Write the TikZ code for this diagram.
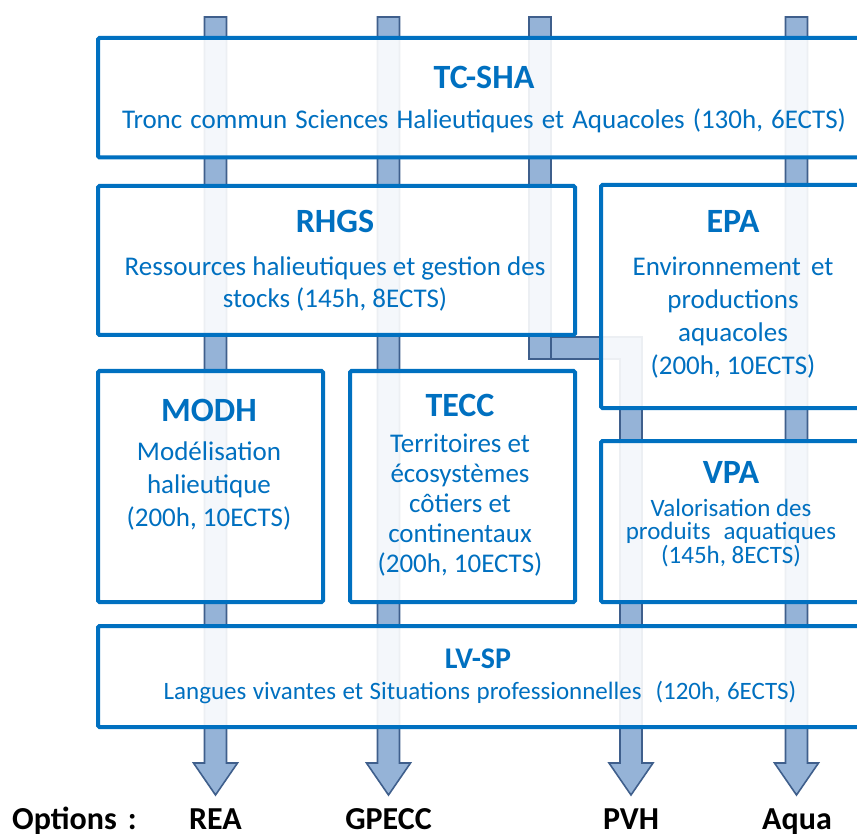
\documentclass[tikz,border=0pt]{standalone}
\usepackage{fontspec}
\setmainfont{Carlito}
\definecolor{boxblue}{HTML}{0070C0}
\definecolor{arrfill}{HTML}{95B3D7}
\definecolor{arrline}{HTML}{3F5F8C}
\newcommand\mlines[1]{\vtop{\lineskiplimit=-\maxdimen\halign{\hfil##\hfil\cr#1\crcr}}}
\begin{document}
\begin{tikzpicture}[x=1pt,y=-1pt,
  box/.style={draw=boxblue, line width=4pt, fill=white, fill opacity=0.9, rounded corners=1.5pt, inner sep=0pt, anchor=north west},
  arrowshape/.style={fill=arrfill, draw=arrline, line width=1.6pt, line join=miter},
  ttl/.style={text=boxblue, font=\fontsize{34}{40}\selectfont\bfseries, anchor=base, inner sep=0pt},
  body/.style={text=boxblue, font=\fontsize{27}{32}\selectfont, anchor=base, inner sep=0pt},
  opt/.style={font=\fontsize{32}{36}\selectfont\bfseries, anchor=base, inner sep=0pt},
  optarrow/.pic={\draw[arrowshape] (-11,0) -- (11,0) -- (11,746) -- (22,746) -- (0,778) -- (-22,746) -- (-11,746) -- cycle;}
]
\useasboundingbox (0,0) rectangle (857,834);
\clip (0,0) rectangle (857,834);
\fill[white] (0,0) rectangle (857,834);

% arrows (behind the boxes)
\pic at (215.5,17) {optarrow};
\pic at (388.5,17) {optarrow};
\pic at (796.5,17) {optarrow};
\draw[arrowshape] (529,17) -- (551,17) -- (551,337) -- (642,337) -- (642,763) -- (653,763) -- (631,795) -- (609,763) -- (620,763) -- (620,359) -- (529,359) -- cycle;
\draw[arrline, line width=1.6pt] (551,337) -- (551,359);

% boxes
\node[box, minimum width=776, minimum height=119.5] (tc) at (96,36) {};
\node[box, minimum width=477, minimum height=149] (rhgs) at (96,184) {};
\node[box, minimum width=271, minimum height=223] (epa) at (599,183) {};
\node[box, minimum width=225, minimum height=231] (modh) at (96,369) {};
\node[box, minimum width=225, minimum height=231] (tecc) at (348,369) {};
\node[box, minimum width=271, minimum height=161] (vpa) at (599,439) {};
\node[box, minimum width=766, minimum height=101] (lvsp) at (96,624) {};

% texts
\node[ttl] (tct) at (484,89) {TC-SHA};
\node[body] (tcb) at (484,129) {\spaceskip=0.3em Tronc commun Sciences Halieutiques et Aquacoles (130h, 6ECTS)};

\node[ttl] (rhgst) at (335,233) {RHGS};
\node[body] (rhgsb) at (335,276) {\mlines{Ressources halieutiques et gestion des\cr stocks (145h, 8ECTS)}};

\node[ttl] (epat) at (733,233) {EPA};
\node[body, font=\fontsize{27}{33}\selectfont] (epab) at (733,276) {\mlines{Environnement\hspace{0.15em} et\cr productions\cr aquacoles\cr (200h, 10ECTS)}};

\node[ttl] (modht) at (209,421) {MODH};
\node[body, font=\fontsize{27}{33}\selectfont] (modhb) at (209,460) {\mlines{Modélisation\cr halieutique\cr (200h, 10ECTS)}};

\node[ttl] (tecct) at (460,416) {TECC};
\node[body, font=\fontsize{27}{30}\selectfont] (teccb) at (460,452) {\mlines{Territoires et\cr écosystèmes\cr côtiers et\cr continentaux\cr (200h, 10ECTS)}};

\node[ttl] (vpat) at (731,483) {VPA};
\node[body, font=\fontsize{25}{23.5}\selectfont] (vpab) at (731,516) {\mlines{Valorisation des\cr produits\hspace{0.3em} aquatiques\cr (145h, 8ECTS)}};

\node[ttl, font=\fontsize{30}{36}\selectfont\bfseries] (lvspt) at (478,668) {LV-SP};
\node[body, font=\fontsize{25}{30}\selectfont] (lvspb) at (480,699) {\spaceskip=0.26em Langues vivantes et Situations professionnelles\hspace{0.3em} (120h, 6ECTS)};

% options
\node[opt, anchor=base west] (opts) at (12,829) {Options\hspace{0.35em}:};
\node[opt] (rea) at (215.5,829) {REA};
\node[opt] (gpecc) at (388.5,829) {GPECC};
\node[opt] (pvh) at (631,829) {PVH};
\node[opt] (aqua) at (797,829) {Aqua};
\end{tikzpicture}
\end{document}
